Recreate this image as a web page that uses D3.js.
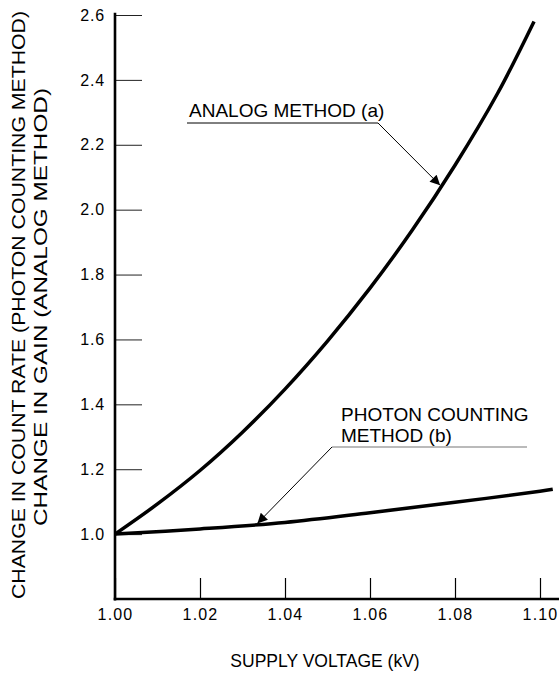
<!DOCTYPE html>
<html>
<head>
<meta charset="utf-8">
<script src="https://cdn.jsdelivr.net/npm/d3@7"></script>
<style>
  body { margin: 0; background: #fff; }
  svg { display: block; font-family: "Liberation Sans", Arial, Helvetica, sans-serif; }
</style>
</head>
<body>
<div id="chart"></div>
<script>
// values
const voltage = [1.00, 1.01, 1.02, 1.03, 1.04, 1.05, 1.06, 1.07, 1.08, 1.09, 1.0986];
const analogGain = [1.000, 1.093, 1.196, 1.314, 1.447, 1.595, 1.758, 1.938, 2.137, 2.358, 2.580];

const photonVoltage = [1.00, 1.02, 1.04, 1.06, 1.08, 1.10, 1.103];
const photonRate = [1.000, 1.016, 1.036, 1.066, 1.098, 1.132, 1.138];

const xTicks = [1.00, 1.02, 1.04, 1.06, 1.08, 1.10];
const yTicks = [1.0, 1.2, 1.4, 1.6, 1.8, 2.0, 2.2, 2.4, 2.6];

const width = 559,
      height = 673;

const svg = d3.select("#chart")
    .append("svg")
    .attr("width", width)
    .attr("height", height);

const x = d3.scaleLinear()
    .domain([1.00, 1.10])
    .range([115, 540]);

const y = d3.scaleLinear()
    .domain([0.8, 2.6])   // x axis sits at 0.8, first labelled tick is 1.0
    .range([599, 15]);

// arrow head for the leader lines
svg.append("defs").append("marker")
    .attr("id", "arrow")
    .attr("viewBox", "0 0 10 10")
    .attr("refX", 10)
    .attr("refY", 5)
    .attr("markerWidth", 16)
    .attr("markerHeight", 10)
    .attr("markerUnits", "userSpaceOnUse")
    .attr("orient", "auto")
    .append("path")
    .attr("d", "M0,0 L10,5 L0,10 z")
    .attr("fill", "#000");

// y axis: ticks point inwards, labels on the left
const yAxis = svg.append("g")
    .attr("transform", `translate(${x(1.00)},0)`)
    .call(d3.axisLeft(y).tickValues(yTicks).tickFormat(d3.format(".1f"))
        .tickSizeInner(-27).tickSizeOuter(0).tickPadding(10));
yAxis.select(".domain").remove();
yAxis.selectAll(".tick line").attr("stroke", "#222").attr("stroke-width", 1);
yAxis.selectAll(".tick text")
    .attr("fill", "#000")
    .style("font-size", "16px")
    .style("letter-spacing", "0.8px");

// x axis
const xAxis = svg.append("g")
    .attr("transform", `translate(0,${y(0.8)})`)
    .call(d3.axisBottom(x).tickValues(xTicks).tickFormat(d3.format(".2f"))
        .tickSizeInner(-21).tickSizeOuter(0).tickPadding(10));
xAxis.select(".domain").remove();
xAxis.selectAll(".tick line").attr("stroke", "#000").attr("stroke-width", 1.2);
xAxis.selectAll(".tick text")
    .attr("fill", "#000")
    .style("font-size", "16px")
    .style("letter-spacing", "1.2px");

// heavy axis lines
svg.append("line")
    .attr("x1", x(1.00)).attr("x2", x(1.00))
    .attr("y1", y(2.607)).attr("y2", y(0.8) + 1.5)
    .attr("stroke", "#000").attr("stroke-width", 2.6);
svg.append("line")
    .attr("x1", x(1.00) - 1.3).attr("x2", width)
    .attr("y1", y(0.8)).attr("y2", y(0.8))
    .attr("stroke", "#000").attr("stroke-width", 2.6);

// curves
const line = d3.line()
    .x(d => x(d[0]))
    .y(d => y(d[1]))
    .curve(d3.curveCatmullRom);

svg.append("path")
    .datum(d3.zip(voltage, analogGain))
    .attr("d", line)
    .attr("fill", "none")
    .attr("stroke", "#000")
    .attr("stroke-width", 3.5);

svg.append("path")
    .datum(d3.zip(photonVoltage, photonRate))
    .attr("d", line)
    .attr("fill", "none")
    .attr("stroke", "#000")
    .attr("stroke-width", 3.5);

// annotation: analog method
svg.append("text")
    .attr("x", 189)
    .attr("y", 117)
    .style("font-size", "19px")
    .text("ANALOG METHOD (a)");
svg.append("line")
    .attr("x1", 187).attr("x2", 378)
    .attr("y1", 123).attr("y2", 123)
    .attr("stroke", "#000").attr("stroke-width", 1);
svg.append("line")
    .attr("x1", 378).attr("y1", 123)
    .attr("x2", x(1.0765)).attr("y2", y(2.075))
    .attr("stroke", "#000").attr("stroke-width", 1)
    .attr("marker-end", "url(#arrow)");

// annotation: photon counting method
svg.append("text")
    .attr("x", 341)
    .attr("y", 421)
    .style("font-size", "19px")
    .text("PHOTON COUNTING");
svg.append("text")
    .attr("x", 341)
    .attr("y", 442)
    .style("font-size", "19px")
    .text("METHOD (b)");
svg.append("line")
    .attr("x1", 332).attr("x2", 527)
    .attr("y1", 447).attr("y2", 447)
    .attr("stroke", "#777").attr("stroke-width", 1.2);
svg.append("line")
    .attr("x1", 332).attr("y1", 447)
    .attr("x2", x(1.0335)).attr("y2", y(1.033))
    .attr("stroke", "#000").attr("stroke-width", 1)
    .attr("marker-end", "url(#arrow)");

// axis titles
svg.append("text")
    .attr("x", 325)
    .attr("y", 667)
    .attr("text-anchor", "middle")
    .style("font-size", "17.5px")
    .text("SUPPLY VOLTAGE (kV)");

svg.append("text")
    .attr("transform", "translate(25,305) rotate(-90)")
    .attr("text-anchor", "middle")
    .attr("textLength", 588)
    .attr("lengthAdjust", "spacingAndGlyphs")
    .style("font-size", "19px")
    .text("CHANGE IN COUNT RATE (PHOTON COUNTING METHOD)");
svg.append("text")
    .attr("transform", "translate(47,307) rotate(-90)")
    .attr("text-anchor", "middle")
    .attr("textLength", 438)
    .attr("lengthAdjust", "spacingAndGlyphs")
    .style("font-size", "19px")
    .text("CHANGE IN GAIN (ANALOG METHOD)");
</script>
</body>
</html>
